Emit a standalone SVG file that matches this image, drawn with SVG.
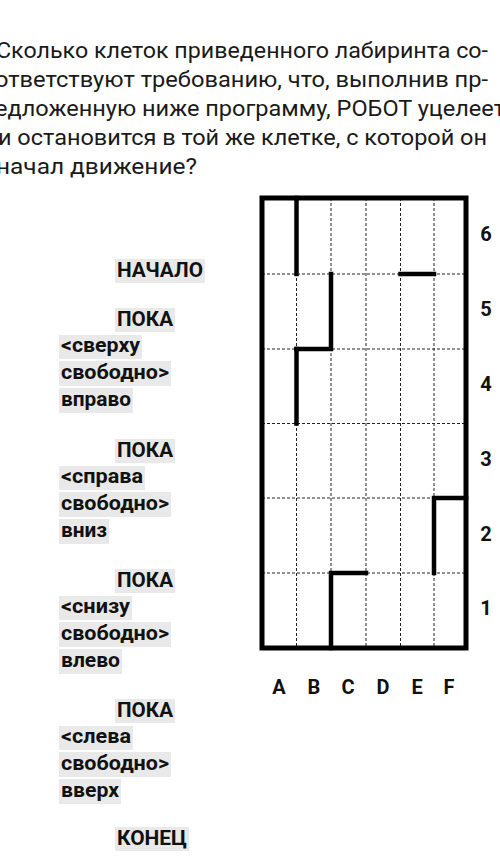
<svg xmlns="http://www.w3.org/2000/svg" width="500" height="863" viewBox="0 0 500 863">
<style>
.t{font-family:Roboto,"Liberation Sans",sans-serif;font-size:22px;fill:#1a1a1a}
.p{font-family:Roboto,"Liberation Sans",sans-serif;font-size:21px;font-weight:bold;fill:#111}
.hl{fill:#e9e9e9}
.lbl{font-family:Roboto,"Liberation Sans",sans-serif;font-size:20px;font-weight:bold;fill:#111;text-anchor:middle}
.grid{stroke:#222;stroke-width:1;stroke-dasharray:3 2;fill:none}
.wall{stroke:#000;stroke-width:4.5;fill:none;stroke-linecap:square}
.border{stroke:#000;stroke-width:5;fill:none}
</style>
<rect width="500" height="863" fill="#fff"/>
<g id="question">
<text class="t" x="-4" y="58" textLength="492" lengthAdjust="spacingAndGlyphs">Сколько клеток приведенного лабиринта со-</text>
<text class="t" x="-5" y="87" textLength="493" lengthAdjust="spacingAndGlyphs">ответствуют требованию, что, выполнив пр-</text>
<text class="t" x="-5" y="116" textLength="510" lengthAdjust="spacingAndGlyphs">едложенную ниже программу, РОБОТ уцелеет</text>
<text class="t" x="-2" y="145" textLength="489" lengthAdjust="spacingAndGlyphs">и остановится в той же клетке, с которой он</text>
<text class="t" x="-4" y="174" textLength="201" lengthAdjust="spacingAndGlyphs">начал движение?</text>
</g>
<g id="program">
<g id="start">
<rect class="hl" x="115" y="259" width="90" height="24"/>
<text class="p" x="117" y="277" textLength="86" lengthAdjust="spacingAndGlyphs">НАЧАЛО</text>
</g>
<g id="loop1">
<rect class="hl" x="115" y="308" width="60" height="24"/>
<text class="p" x="117" y="326" textLength="56" lengthAdjust="spacingAndGlyphs">ПОКА</text>
<rect class="hl" x="59" y="335" width="83" height="24"/>
<text class="p" x="61" y="352" textLength="79" lengthAdjust="spacingAndGlyphs">&lt;сверху</text>
<rect class="hl" x="59" y="361" width="112" height="25"/>
<text class="p" x="61" y="379" textLength="108" lengthAdjust="spacingAndGlyphs">свободно&gt;</text>
<rect class="hl" x="59" y="388" width="74" height="25"/>
<text class="p" x="61" y="406" textLength="70" lengthAdjust="spacingAndGlyphs">вправо</text>
</g>
<g id="loop2">
<rect class="hl" x="115" y="439" width="60" height="24"/>
<text class="p" x="117" y="457" textLength="56" lengthAdjust="spacingAndGlyphs">ПОКА</text>
<rect class="hl" x="59" y="466" width="86" height="24"/>
<text class="p" x="61" y="483" textLength="82" lengthAdjust="spacingAndGlyphs">&lt;справа</text>
<rect class="hl" x="59" y="492" width="112" height="25"/>
<text class="p" x="61" y="510" textLength="108" lengthAdjust="spacingAndGlyphs">свободно&gt;</text>
<rect class="hl" x="59" y="519" width="50" height="25"/>
<text class="p" x="61" y="537" textLength="46" lengthAdjust="spacingAndGlyphs">вниз</text>
</g>
<g id="loop3">
<rect class="hl" x="115" y="569" width="60" height="24"/>
<text class="p" x="117" y="587" textLength="56" lengthAdjust="spacingAndGlyphs">ПОКА</text>
<rect class="hl" x="59" y="596" width="73" height="24"/>
<text class="p" x="61" y="613" textLength="69" lengthAdjust="spacingAndGlyphs">&lt;снизу</text>
<rect class="hl" x="59" y="622" width="112" height="25"/>
<text class="p" x="61" y="640" textLength="108" lengthAdjust="spacingAndGlyphs">свободно&gt;</text>
<rect class="hl" x="59" y="649" width="63" height="25"/>
<text class="p" x="61" y="667" textLength="59" lengthAdjust="spacingAndGlyphs">влево</text>
</g>
<g id="loop4">
<rect class="hl" x="115" y="699" width="60" height="24"/>
<text class="p" x="117" y="717" textLength="56" lengthAdjust="spacingAndGlyphs">ПОКА</text>
<rect class="hl" x="59" y="726" width="74" height="24"/>
<text class="p" x="61" y="743" textLength="70" lengthAdjust="spacingAndGlyphs">&lt;слева</text>
<rect class="hl" x="59" y="752" width="112" height="25"/>
<text class="p" x="61" y="770" textLength="108" lengthAdjust="spacingAndGlyphs">свободно&gt;</text>
<rect class="hl" x="59" y="779" width="62" height="25"/>
<text class="p" x="61" y="797" textLength="58" lengthAdjust="spacingAndGlyphs">вверх</text>
</g>
<g id="end">
<rect class="hl" x="115" y="827" width="74" height="24"/>
<text class="p" x="117" y="845" textLength="70" lengthAdjust="spacingAndGlyphs">КОНЕЦ</text>
</g>
</g>
<g id="maze">
<g id="gridlines">
<path class="grid" d="M296.5 198V648M331 198V648M366 198V648M400.5 198V648M434 198V648"/>
<path class="grid" d="M262 274H466M262 349H466M262 423.5H466M262 498H466M262 573H466"/>
</g>
<rect id="border" class="border" x="262" y="198" width="204" height="450"/>
<g id="walls">
<path class="wall" d="M296.5 198V274"/>
<path class="wall" d="M400.5 274H434"/>
<path class="wall" d="M296.5 349H331V274"/>
<path class="wall" d="M296.5 349V423.5"/>
<path class="wall" d="M466 498H434V573"/>
<path class="wall" d="M331 648V573H366"/>
</g>
<g id="row-labels">
<text class="lbl" x="486" y="241">6</text>
<text class="lbl" x="486" y="316">5</text>
<text class="lbl" x="486" y="391">4</text>
<text class="lbl" x="486" y="466">3</text>
<text class="lbl" x="486" y="541">2</text>
<text class="lbl" x="486" y="615">1</text>
</g>
<g id="col-labels">
<text class="lbl" x="279" y="694">A</text>
<text class="lbl" x="314" y="694">B</text>
<text class="lbl" x="348" y="694">C</text>
<text class="lbl" x="383" y="694">D</text>
<text class="lbl" x="417" y="694">E</text>
<text class="lbl" x="449" y="694">F</text>
</g>
</g>
</svg>
